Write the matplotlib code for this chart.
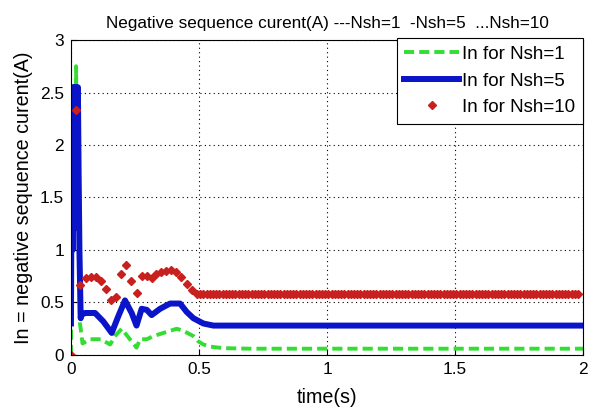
import matplotlib
matplotlib.use('Agg')
import numpy as np
import matplotlib.pyplot as plt

plt.rcParams['font.family'] = ['Liberation Sans', 'DejaVu Sans']

# Nsh=1 (green dashed)
t_g = [0, 0.004, 0.008, 0.012, 0.016, 0.02, 0.024, 0.028, 0.032, 0.035, 0.038, 0.045,
       0.075, 0.116, 0.153, 0.172, 0.198, 0.23, 0.256, 0.27, 0.296, 0.322, 0.374, 0.413,
       0.439, 0.478, 0.497, 0.517, 0.543, 0.595, 0.7, 1.0, 1.5, 2.0]
i_g = [0, 2.2, 1.2, 2.6, 1.4, 2.75, 1.3, 2.5, 1.6, 0.3, 0.25, 0.11,
       0.15, 0.15, 0.10, 0.18, 0.25, 0.15, 0.07, 0.15, 0.15, 0.18, 0.22, 0.25,
       0.23, 0.18, 0.13, 0.10, 0.08, 0.065, 0.06, 0.06, 0.06, 0.06]

# Nsh=5 (blue solid)
t_b = [0, 0.003, 0.006, 0.009, 0.012, 0.015, 0.018, 0.021, 0.024, 0.027, 0.030, 0.033,
       0.036, 0.038, 0.040, 0.055, 0.094, 0.126, 0.159, 0.185, 0.211, 0.237, 0.256,
       0.276, 0.296, 0.315, 0.348, 0.387, 0.426, 0.452, 0.478, 0.517, 0.556, 0.65,
       1.0, 1.5, 2.0]
i_b = [0.3, 2.3, 1.0, 2.55, 1.2, 2.55, 1.3, 2.55, 1.4, 2.55, 1.7, 1.0,
       0.6, 0.35, 0.38, 0.40, 0.40, 0.32, 0.21, 0.37, 0.52, 0.40, 0.28,
       0.44, 0.43, 0.38, 0.44, 0.49, 0.49, 0.41, 0.35, 0.30, 0.28, 0.28,
       0.28, 0.28, 0.28]

# Nsh=10 (red dots)
t_r = [0, 0.018, 0.035, 0.057, 0.077, 0.096, 0.116, 0.135, 0.155, 0.176, 0.194, 0.213,
       0.233, 0.256, 0.276, 0.296, 0.315, 0.332, 0.352, 0.371, 0.391, 0.410, 0.430,
       0.452, 0.471, 0.491]
i_r = [0, 2.33, 0.67, 0.73, 0.74, 0.74, 0.70, 0.63, 0.52, 0.55, 0.77, 0.86,
       0.70, 0.59, 0.75, 0.75, 0.73, 0.77, 0.79, 0.80, 0.81, 0.79, 0.74,
       0.68, 0.62, 0.58]
# steady state after 0.5 s (solver output every 0.0125 s)
i_r_ss = 0.58
t_r_ss = np.arange(0.505, 1.99, 0.0125)

fig = plt.figure(figsize=(5.89, 4.07), dpi=100)
ax = fig.add_axes([0.1205, 0.1278, 0.8695, 0.7739])

ax.plot(t_g, i_g, color='#33dd33', linewidth=2.8, dashes=(2.6, 1.3), label='In for Nsh=1')
ax.plot(t_b, i_b, color='#0a14c8', linewidth=4.3, label='In for Nsh=5')
ax.plot(list(t_r) + list(t_r_ss), list(i_r) + [i_r_ss] * len(t_r_ss),
        linestyle='none', marker='D', markersize=3.9, color='#c8201e',
        label='In for Nsh=10')

ax.set_xlim(0, 2)
ax.set_ylim(0, 3)
ax.set_xticks([0, 0.5, 1, 1.5, 2])
ax.set_xticklabels(['0', '0.5', '1', '1.5', '2'])
ax.set_yticks([0, 0.5, 1, 1.5, 2, 2.5, 3])
ax.set_yticklabels(['0', '0.5', '1', '1.5', '2', '2.5', '3'])
ax.tick_params(direction='in', labelsize=12.4, length=4, pad=5)
ax.grid(True, color='black', linestyle=(0, (1, 3)), linewidth=0.8)

ax.set_xlabel('time(s)', fontsize=14.2, labelpad=8)
ax.set_ylabel('In = negative sequence curent(A)', fontsize=14.2, labelpad=5)
ax.set_title('Negative sequence curent(A) ---Nsh=1  -Nsh=5  ...Nsh=10', fontsize=12.3, pad=8.6)

leg = ax.legend(loc='upper right', fontsize=13.5, fancybox=False, framealpha=1,
                edgecolor='black', borderaxespad=0, handlelength=2.9,
                handletextpad=0.2, borderpad=0.4, labelspacing=0.5,
                bbox_to_anchor=(1.0, 1.005))
leg.get_frame().set_linewidth(0.8)

plt.savefig('out.png', dpi=100)
